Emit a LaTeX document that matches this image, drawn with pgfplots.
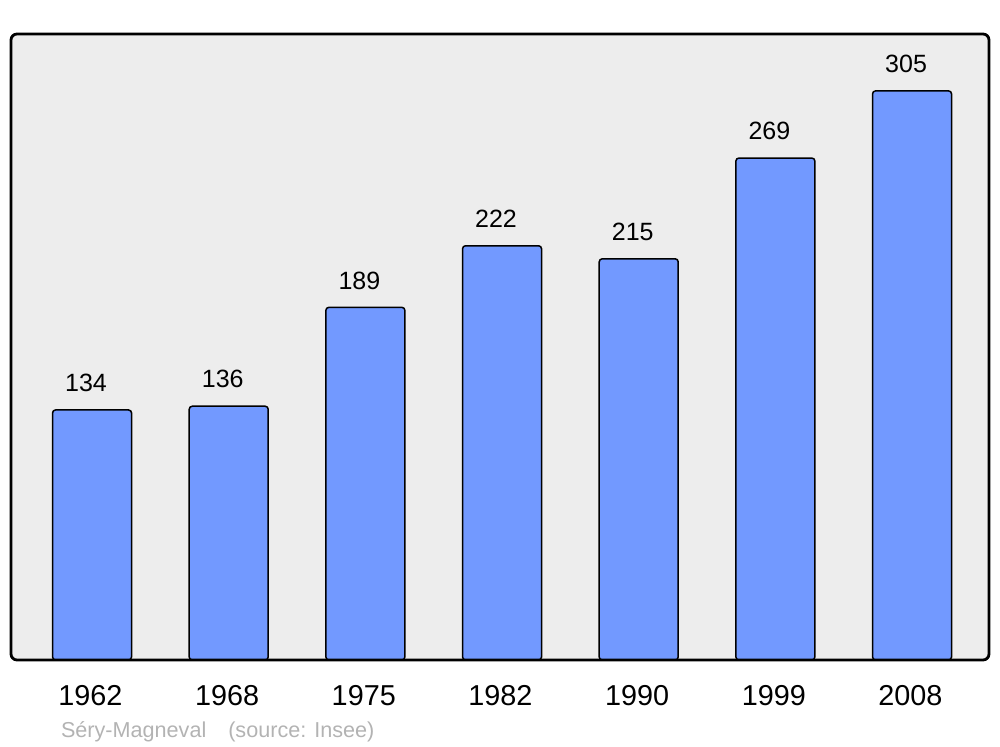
\documentclass[border=0pt]{standalone}
\usepackage{pgfplots}
\pgfplotsset{compat=1.18}
\usepackage{fontspec}
\setmainfont{Liberation Sans}
\definecolor{barblue}{HTML}{7299FF}
\definecolor{bgray}{HTML}{EDEDED}
\definecolor{srcgray}{HTML}{B3B3B3}
\begin{document}
\begin{tikzpicture}
\begin{axis}[
  at={(0,0)}, anchor=south west,
  scale only axis, width=489pt, height=313pt,
  xmin=-0.593, xmax=6.563, ymin=0, ymax=335.5,
  ybar, bar width=0.578, bar shift=0pt,
  xtick={0,1,2,3,4,5,6},
  xticklabels={1962,1968,1975,1982,1990,1999,2008},
  ytick=\empty,
  major tick length=0pt,
  xtick style={draw=none},
  xticklabel style={font=\fontsize{14.4}{16}\selectfont, yshift=-9pt, xshift=-0.8pt},
  axis line style={draw=none},
  axis background/.style={fill=bgray, rounded corners=3pt},
  /pgf/number format/assume math mode=true,
  nodes near coords,
  nodes near coords style={font=\fontsize{12.5}{14}\selectfont, xshift=-3pt, yshift=5.3pt, text=black},
  clip=false,
]
\addplot[fill=barblue, draw=black, line width=0.75pt, rounded corners=1.5pt] coordinates {(0,134) (1,136) (2,189) (3,222) (4,215) (5,269) (6,305)};
\draw[line width=1.4pt, rounded corners=3pt] (rel axis cs:0,0) rectangle (rel axis cs:1,1);
\end{axis}
\node[anchor=base west, text=srcgray, font=\fontsize{10.8}{12}\selectfont] at (21.5pt,-38.75pt) {Séry-Magneval\hspace{11pt}(source: Insee)};
\pgfresetboundingbox
\path (-5.5pt,-43.5pt) rectangle (494.5pt,330pt);
\end{tikzpicture}
\end{document}
